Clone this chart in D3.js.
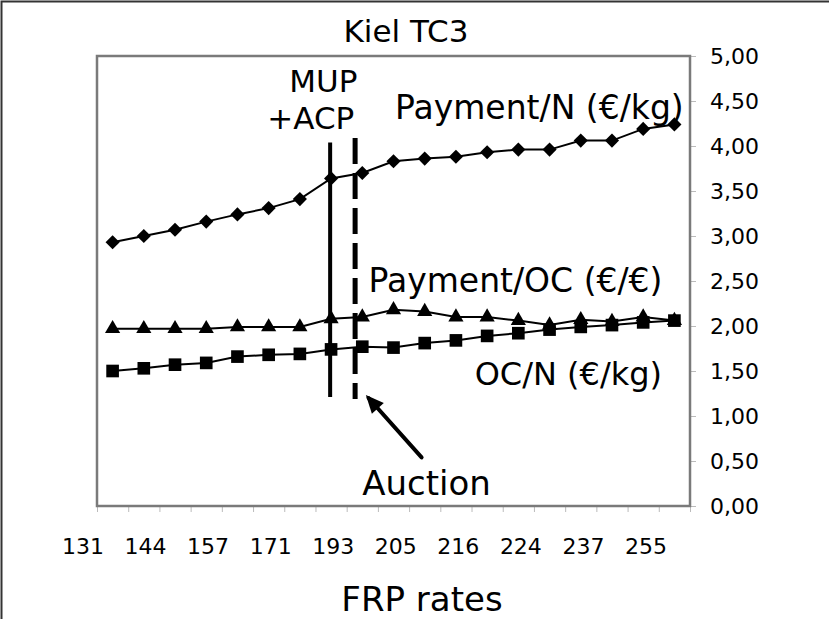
<!DOCTYPE html>
<html>
<head>
<meta charset="utf-8">
<script src="https://cdn.jsdelivr.net/npm/d3@7"></script>
<style>
  body { margin: 0; background: #fff; }
  text { font-family: "DejaVu Sans", Verdana, sans-serif; fill: #000; }
</style>
</head>
<body>
<svg id="chart"></svg>
<script>
// FRP rate labels (every second category is labelled)
const tickLabels = ["131", "144", "157", "171", "193", "205", "216", "224", "237", "255"];
const paymentN  = [2.93, 3.00, 3.07, 3.16, 3.24, 3.31, 3.41, 3.64, 3.70, 3.83, 3.86, 3.88, 3.93, 3.96, 3.96, 4.06, 4.06, 4.19, 4.24];
const paymentOC = [1.97, 1.97, 1.97, 1.97, 1.99, 1.99, 1.99, 2.08, 2.10, 2.18, 2.16, 2.10, 2.10, 2.06, 2.01, 2.07, 2.05, 2.10, 2.06];
const ocN       = [1.50, 1.53, 1.57, 1.59, 1.66, 1.68, 1.69, 1.74, 1.77, 1.76, 1.81, 1.84, 1.89, 1.92, 1.96, 1.99, 2.01, 2.04, 2.06];
const yTicks = [0, 0.5, 1, 1.5, 2, 2.5, 3, 3.5, 4, 4.5, 5];

const width = 829, height = 619;
const plotL = 97, plotR = 690, plotT = 56, plotB = 506;

const svg = d3.select("#chart")
  .attr("width", width)
  .attr("height", height);

// outer frame (only top and left edges show)
svg.append("path")
  .attr("d", `M1.5,${height} V1.5 H${width}`)
  .attr("fill", "none")
  .attr("stroke", "#333")
  .attr("stroke-width", 2);

const idx = d3.range(paymentN.length);
const x = d3.scaleBand().domain(idx).range([plotL, plotR]);
// continuous position in category units, for annotations
const xi = d3.scaleLinear().domain([-0.5, idx.length - 0.5]).range([plotL, plotR]);
const y = d3.scaleLinear().domain([0, 5]).range([plotB, plotT]);
const xLab = d3.scalePoint().domain(tickLabels).range([83, 646]);

// right value axis
const yAxis = svg.append("g")
  .attr("transform", `translate(${plotR},0)`)
  .call(d3.axisRight(y).tickValues(yTicks).tickSize(6).tickPadding(14)
    .tickFormat(d => d3.format(".2f")(d).replace(".", ",")));
yAxis.select(".domain").remove();
yAxis.selectAll("line").attr("stroke", "#bbb");
yAxis.selectAll("text").style("font-size", "22px").attr("dy", "0.36em");

// category tick marks under the plot
const xAxis = svg.append("g")
  .attr("transform", `translate(0,${plotB})`)
  .call(d3.axisBottom(xi).tickValues(d3.range(-0.5, idx.length, 1)).tickSize(6).tickFormat(""));
xAxis.select(".domain").remove();
xAxis.selectAll("line").attr("stroke", "#bbb");

// plot frame
svg.append("rect")
  .attr("x", plotL).attr("y", plotT)
  .attr("width", plotR - plotL).attr("height", plotB - plotT)
  .attr("fill", "none")
  .attr("stroke", "#7a7a7a")
  .attr("stroke-width", 2.5);

// FRP labels
svg.append("g").selectAll("text")
  .data(tickLabels)
  .join("text")
  .attr("x", d => xLab(d))
  .attr("y", 554)
  .attr("text-anchor", "middle")
  .style("font-size", "22px")
  .text(d => d);

svg.append("text")
  .attr("x", 422).attr("y", 611)
  .attr("text-anchor", "middle")
  .style("font-size", "34px")
  .text("FRP rates");

svg.append("text")
  .attr("x", 406).attr("y", 42)
  .attr("text-anchor", "middle")
  .style("font-size", "31px")
  .text("Kiel TC3");

// series
const cx = i => x(i) + x.bandwidth() / 2;
const line = d3.line().x((d, i) => cx(i)).y(d => y(d));

const series = [
  { values: paymentN, symbol: d3.symbolSquare, size: 100, rotate: 45 },
  { values: paymentOC, symbol: d3.symbolTriangle, size: 100, rotate: 0 },
  { values: ocN, symbol: d3.symbolSquare, size: 160, rotate: 0 },
];

series.forEach(s => {
  svg.append("path")
    .datum(s.values)
    .attr("fill", "none")
    .attr("stroke", "#000")
    .attr("stroke-width", 2)
    .attr("d", line);
  svg.append("g").selectAll("path")
    .data(s.values)
    .join("path")
    .attr("transform", (d, i) => `translate(${cx(i)},${y(d)}) rotate(${s.rotate})`)
    .attr("d", d3.symbol(s.symbol, s.size))
    .attr("fill", "#000");
});

// MUP+ACP (solid) and auction (dashed) markers
svg.append("line")
  .attr("x1", xi(6.97)).attr("x2", xi(6.97))
  .attr("y1", y(4.04)).attr("y2", y(1.21))
  .attr("stroke", "#000").attr("stroke-width", 4);

svg.append("line")
  .attr("x1", xi(7.77)).attr("x2", xi(7.77))
  .attr("y1", y(4.09)).attr("y2", y(1.19))
  .attr("stroke", "#000").attr("stroke-width", 5)
  .attr("stroke-dasharray", "26,9");

// arrow pointing at the auction line
const tail = [xi(9.9), y(0.54)], head = [xi(8.2), y(1.20)];
svg.append("line")
  .attr("x1", tail[0]).attr("y1", tail[1])
  .attr("x2", head[0]).attr("y2", head[1])
  .attr("stroke", "#000").attr("stroke-width", 4)
  .attr("stroke-linecap", "round");
const ang = Math.atan2(head[1] - tail[1], head[0] - tail[0]) * 180 / Math.PI;
svg.append("path")
  .attr("d", "M4,0 L-14,-8 L-14,8 Z")
  .attr("transform", `translate(${head[0]},${head[1]}) rotate(${ang})`)
  .attr("fill", "#000");

// two-line MUP / +ACP label
const mup = svg.append("text")
  .attr("text-anchor", "middle")
  .style("font-size", "31px");
mup.append("tspan").attr("x", xi(6.75)).attr("y", y(4.6)).text("MUP");
mup.append("tspan").attr("x", xi(6.35)).attr("y", y(4.19)).text("+ACP");

// other annotations
const notes = [
  { t: "Payment/N (€/kg)", xv: 9.05, yv: 4.3, size: 33 },
  { t: "Payment/OC (€/€)", xv: 8.2, yv: 2.38, size: 33 },
  { t: "OC/N (€/kg)", xv: 11.6, yv: 1.35, size: 32 },
  { t: "Auction", xv: 8.0, yv: 0.12, size: 34 },
];
svg.append("g").selectAll("text")
  .data(notes)
  .join("text")
  .attr("x", d => xi(d.xv))
  .attr("y", d => y(d.yv))
  .style("font-size", d => d.size + "px")
  .text(d => d.t);
</script>
</body>
</html>
